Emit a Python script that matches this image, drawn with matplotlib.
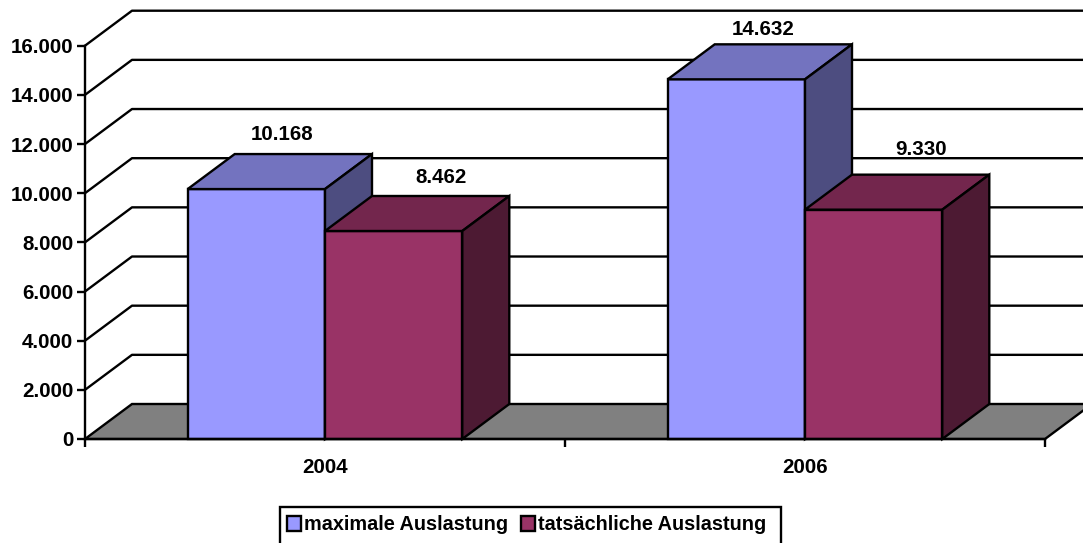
import matplotlib
matplotlib.use("Agg")
import matplotlib.pyplot as plt
from matplotlib.patches import Patch, Rectangle

plt.rcParams['font.family'] = ['Liberation Sans', 'DejaVu Sans']
plt.rcParams['font.weight'] = 'bold'

years = ["2004", "2006"]
maximale = [10168, 14632]
tatsaechliche = [8462, 9330]
series_names = ["maximale Auslastung", "tatsächliche Auslastung"]
y_ticks = [0, 2000, 4000, 6000, 8000, 10000, 12000, 14000, 16000]
y_labels = ["0", "2.000", "4.000", "6.000", "8.000", "10.000", "12.000", "14.000", "16.000"]

W, H = 1083, 543
fig = plt.figure(figsize=(W / 100, H / 100), dpi=100)
# plot area = front plane of the fake 3d box
ax = fig.add_axes([85 / W, 1 - 439 / H, 960 / W, 393.3 / H])
ax.set_xlim(0, len(years))
ax.set_ylim(0, 16000)

# depth of the 3d effect, in data units
dx = 47 / 480
dy = 35 / 393.3 * 16000
bar_w = 137.3 / 480
lw = 1.7


def box(x0, x1, v, front, top, side, z):
    ax.fill([x0, x1, x1, x0], [0, 0, v, v], fc=front, ec='k', lw=lw, zorder=z, clip_on=False)
    ax.fill([x0, x1, x1 + dx, x0 + dx], [v, v, v + dy, v + dy], fc=top, ec='k', lw=lw, zorder=z, clip_on=False)
    ax.fill([x1, x1 + dx, x1 + dx, x1], [0, dy, v + dy, v], fc=side, ec='k', lw=lw, zorder=z, clip_on=False)


# floor and grid
n = len(years)
ax.fill([0, n, n + dx, dx], [0, 0, dy, dy], fc='#808080', ec='k', lw=lw, zorder=1, clip_on=False)
for t in y_ticks[1:]:
    ax.plot([0, dx, n + dx], [t, t + dy, t + dy], color='k', lw=lw, zorder=1, clip_on=False)

# bars, drawn back to front so the second series sits over the first
for i in range(n):
    c = i + 0.5
    box(c - bar_w, c, maximale[i], '#9999FF', '#7373BF', '#4D4D80', 3 + i)
    box(c, c + bar_w, tatsaechliche[i], '#993366', '#73264D', '#4D1A33', 3.5 + i)

# value labels, nudged by hand like the original
for i in range(n):
    c = i + 0.5
    ax.annotate(f"{maximale[i]:,}".replace(",", "."),
                (c - bar_w / 2 + dx / 2, maximale[i] + dy), xytext=([2.5, 3.5][i], [10, 5.5][i]),
                textcoords='offset pixels', ha='center', va='bottom', fontsize=14.8,
                annotation_clip=False, zorder=10)
    ax.annotate(f"{tatsaechliche[i]:,}".replace(",", "."),
                (c + bar_w / 2 + dx / 2, tatsaechliche[i] + dy), xytext=(24, [9, 16][i]),
                textcoords='offset pixels', ha='center', va='bottom', fontsize=14.8,
                annotation_clip=False, zorder=10)

for s in ['top', 'right']:
    ax.spines[s].set_visible(False)
ax.spines['left'].set_linewidth(lw)
ax.spines['bottom'].set_linewidth(lw)
ax.spines['bottom'].set_zorder(12)
ax.patch.set_alpha(0)

ax.set_yticks(y_ticks, y_labels, fontsize=14.8)
ax.set_xticks(range(n + 1))
ax.set_xticklabels([])
ax.set_xticks([i + 0.5 for i in range(n)], years, minor=True, fontsize=14.8)
ax.tick_params(axis='both', which='major', length=5.5, width=lw, pad=3)
ax.tick_params(axis='x', which='minor', length=0, pad=14)

# legend frame runs off the bottom of the image in the original
fig.add_artist(Rectangle((280 / W, -6 / H), 501 / W, 42 / H, transform=fig.transFigure,
                         fc='white', ec='k', lw=lw, clip_on=False))
handles = [Patch(fc='#9999FF', ec='k', lw=lw), Patch(fc='#993366', ec='k', lw=lw)]
leg = fig.legend(handles, series_names, loc='center left', bbox_to_anchor=(287 / W, 1 - 525 / H),
                 ncol=2, frameon=False, fontsize=14.3, handlelength=0.72, handleheight=0.72,
                 handletextpad=0.15, columnspacing=0.64, borderpad=0, borderaxespad=0)
leg.set_zorder(20)

fig.savefig("out.png", dpi=100, facecolor='white')
